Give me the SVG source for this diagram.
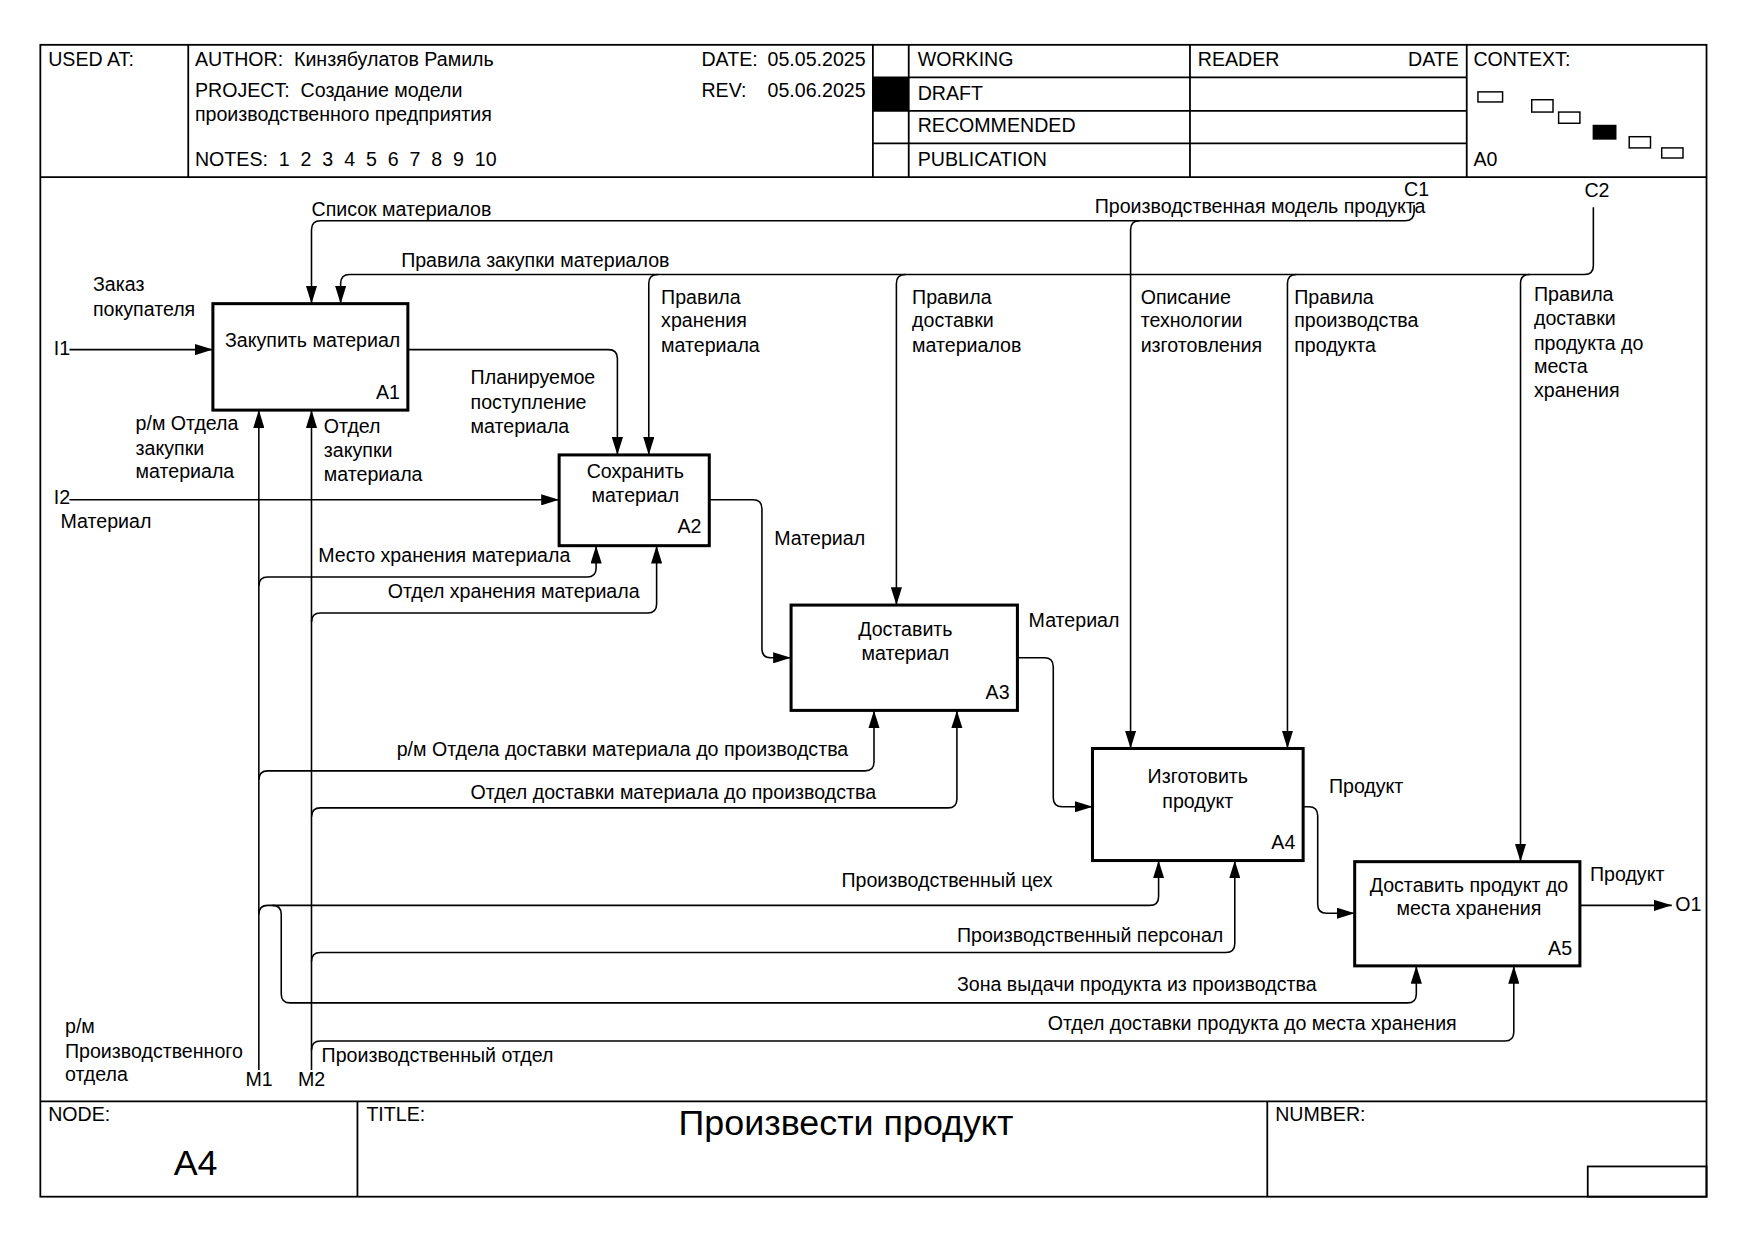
<svg xmlns="http://www.w3.org/2000/svg" width="1755" height="1241" viewBox="0 0 1755 1241">
<style>
text{font-family:"Liberation Sans",Arial,"Noto Sans",sans-serif;fill:#000}
.t{font-size:17.5px}
.h{font-size:17.5px;white-space:pre}
.big{font-size:32px}
.mid{text-anchor:middle}
.end{text-anchor:end}
.fr{fill:none;stroke:#000;stroke-width:1.6}
.box{fill:#fff;stroke:#000;stroke-width:2.7}
.arr{fill:none;stroke:#000;stroke-width:1.4;marker-end:url(#ah)}
.cx{fill:#fff;stroke:#000;stroke-width:1.3}
</style>
<defs>
<marker id="ah" viewBox="0 0 16 10" refX="16" refY="5" markerWidth="16" markerHeight="10" markerUnits="userSpaceOnUse" orient="auto">
<path d="M0,0 L16,5 L0,10 z" fill="#000"/>
</marker>
</defs>
<rect width="1755" height="1241" fill="#fff"/>
<g transform="scale(1.1205)">
<g id="frame">
<rect class="fr" x="36" y="40" width="1487" height="1028"/>
<line class="fr" x1="36" y1="158" x2="1523" y2="158"/>
<line class="fr" x1="36" y1="983" x2="1523" y2="983"/>
<line class="fr" x1="168" y1="40" x2="168" y2="158"/>
<line class="fr" x1="779" y1="40" x2="779" y2="158"/>
<line class="fr" x1="811" y1="40" x2="811" y2="158"/>
<line class="fr" x1="1062" y1="40" x2="1062" y2="158"/>
<line class="fr" x1="1309" y1="40" x2="1309" y2="158"/>
<line class="fr" x1="779" y1="69" x2="1309" y2="69"/>
<line class="fr" x1="779" y1="99" x2="1309" y2="99"/>
<line class="fr" x1="779" y1="128" x2="1309" y2="128"/>
<rect x="779" y="69" width="32" height="30" fill="#000"/>
<line class="fr" x1="319" y1="983" x2="319" y2="1068"/>
<line class="fr" x1="1131" y1="983" x2="1131" y2="1068"/>
<rect class="fr" x="1417" y="1041" width="106" height="27"/>
<rect class="cx" x="1319" y="82" width="22" height="9"/>
<rect class="cx" x="1367" y="89" width="19" height="11"/>
<rect class="cx" x="1391" y="100" width="19" height="10"/>
<rect x="1422" y="112" width="20" height="12" fill="#000" stroke="#000" stroke-width="1.3"/>
<rect class="cx" x="1454" y="122" width="19" height="10"/>
<rect class="cx" x="1483" y="132" width="19" height="9"/>
<text class="h" x="43" y="59">USED AT:</text>
<text class="h" x="174" y="59" xml:space="preserve">AUTHOR:  Кинзябулатов Рамиль</text>
<text class="h" x="626" y="59">DATE:</text>
<text class="h" x="685" y="59">05.05.2025</text>
<text class="h" x="174" y="87" xml:space="preserve">PROJECT:  Создание модели</text>
<text class="h" x="174" y="108">производственного предприятия</text>
<text class="h" x="626" y="87">REV:</text>
<text class="h" x="685" y="87">05.06.2025</text>
<text class="h" x="174" y="148" xml:space="preserve">NOTES:  1  2  3  4  5  6  7  8  9  10</text>
<text class="h" x="819" y="59">WORKING</text>
<text class="h" x="819" y="89">DRAFT</text>
<text class="h" x="819" y="118">RECOMMENDED</text>
<text class="h" x="819" y="148">PUBLICATION</text>
<text class="h" x="1069" y="59">READER</text>
<text class="h end" x="1302" y="59">DATE</text>
<text class="h" x="1315" y="59">CONTEXT:</text>
<text class="h" x="1315" y="148">A0</text>
<text class="h" x="43" y="1000">NODE:</text>
<text class="big" x="155" y="1049">A4</text>
<text class="h" x="327" y="1000">TITLE:</text>
<text class="big mid" x="755" y="1013">Произвести продукт</text>
<text class="h" x="1138" y="1000">NUMBER:</text>
</g>
<g id="connectors">
<path class="arr" d="M62,312 H190"/>
<path class="arr" d="M62,446 H499"/>
<path class="arr" d="M364,312 H543 Q551,312 551,320 V406"/>
<path class="arr" d="M1262,183 V189 Q1262,197 1254,197 H286 Q278,197 278,205 V271"/>
<path class="arr" d="M1017,197 Q1009,197 1009,205 V668"/>
<path class="arr" d="M1422,185 V237 Q1422,245 1414,245 H312 Q304,245 304,253 V271"/>
<path class="arr" d="M587,245 Q579,245 579,253 V406"/>
<path class="arr" d="M808,245 Q800,245 800,253 V540"/>
<path class="arr" d="M1157,245 Q1149,245 1149,253 V668"/>
<path class="arr" d="M1365,245 Q1357,245 1357,253 V769"/>
<path class="arr" d="M633,446 H672 Q680,446 680,454 V579 Q680,587 688,587 H706"/>
<path class="arr" d="M908,587 H932 Q940,587 940,595 V712 Q940,720 948,720 H975"/>
<path class="arr" d="M1163,720 H1168 Q1176,720 1176,728 V807 Q1176,815 1184,815 H1209"/>
<path class="arr" d="M1410,808 H1492"/>
<path class="arr" d="M231,955 V366"/>
<path class="arr" d="M231,523 Q231,515 239,515 H524 Q532,515 532,507 V487"/>
<path class="arr" d="M231,696 Q231,688 239,688 H772 Q780,688 780,680 V634"/>
<path class="arr" d="M231,816 Q231,808 239,808 H1026 Q1034,808 1034,800 V768"/>
<path class="arr" d="M243,808 Q251,808 251,816 V887 Q251,895 259,895 H1256 Q1264,895 1264,887 V862"/>
<path class="arr" d="M278,955 V366"/>
<path class="arr" d="M278,555 Q278,547 286,547 H578 Q586,547 586,539 V487"/>
<path class="arr" d="M278,729 Q278,721 286,721 H846 Q854,721 854,713 V634"/>
<path class="arr" d="M278,858 Q278,850 286,850 H1094 Q1102,850 1102,842 V768"/>
<path class="arr" d="M278,937 Q278,929 286,929 H1343 Q1351,929 1351,921 V862"/>
</g>
<g id="labels">
<text class="t" x="48" y="317">I1</text>
<text class="t" x="48" y="450">I2</text>
<text class="t" x="1495" y="813">O1</text>
<text class="t" x="1253" y="175">C1</text>
<text class="t" x="1414" y="176">C2</text>
<text class="t" x="219" y="969">M1</text>
<text class="t" x="266" y="969">M2</text>
<text class="t" x="83" y="260">Заказ</text>
<text class="t" x="83" y="282">покупателя</text>
<text class="t" x="54" y="471">Материал</text>
<text class="t" x="278" y="193">Список материалов</text>
<text class="t" x="358" y="238">Правила закупки материалов</text>
<text class="t" x="977" y="190">Производственная модель продукта</text>
<text class="t" x="590" y="271">Правила</text>
<text class="t" x="590" y="292">хранения</text>
<text class="t" x="590" y="314">материала</text>
<text class="t" x="814" y="271">Правила</text>
<text class="t" x="814" y="292">доставки</text>
<text class="t" x="814" y="314">материалов</text>
<text class="t" x="1018" y="271">Описание</text>
<text class="t" x="1018" y="292">технологии</text>
<text class="t" x="1018" y="314">изготовления</text>
<text class="t" x="1155" y="271">Правила</text>
<text class="t" x="1155" y="292">производства</text>
<text class="t" x="1155" y="314">продукта</text>
<text class="t" x="1369" y="269">Правила</text>
<text class="t" x="1369" y="290">доставки</text>
<text class="t" x="1369" y="312">продукта до</text>
<text class="t" x="1369" y="333">места</text>
<text class="t" x="1369" y="354">хранения</text>
<text class="t" x="420" y="343">Планируемое</text>
<text class="t" x="420" y="365">поступление</text>
<text class="t" x="420" y="386">материала</text>
<text class="t" x="121" y="384">р/м Отдела</text>
<text class="t" x="121" y="406">закупки</text>
<text class="t" x="121" y="427">материала</text>
<text class="t" x="289" y="386">Отдел</text>
<text class="t" x="289" y="408">закупки</text>
<text class="t" x="289" y="429">материала</text>
<text class="t" x="284" y="502">Место хранения материала</text>
<text class="t" x="346" y="534">Отдел хранения материала</text>
<text class="t" x="691" y="486">Материал</text>
<text class="t" x="918" y="560">Материал</text>
<text class="t" x="354" y="675">р/м Отдела доставки материала до производства</text>
<text class="t" x="420" y="713">Отдел доставки материала до производства</text>
<text class="t" x="1186" y="708">Продукт</text>
<text class="t" x="1419" y="786">Продукт</text>
<text class="t" x="751" y="792">Производственный цех</text>
<text class="t" x="854" y="841">Производственный персонал</text>
<text class="t" x="854" y="884">Зона выдачи продукта из производства</text>
<text class="t" x="935" y="919">Отдел доставки продукта до места хранения</text>
<text class="t" x="58" y="922">р/м</text>
<text class="t" x="58" y="944">Производственного</text>
<text class="t" x="58" y="965">отдела</text>
<text class="t" x="287" y="948">Производственный отдел</text>
</g>
<g id="A1">
<rect class="box" x="190" y="271" width="174" height="95"/>
<text class="t mid" x="279" y="310">Закупить материал</text>
<text class="t end" x="357" y="356">A1</text>
</g>
<g id="A2">
<rect class="box" x="499" y="406" width="134" height="81"/>
<text class="t mid" x="567" y="427">Сохранить</text>
<text class="t mid" x="567" y="448">материал</text>
<text class="t end" x="626" y="476">A2</text>
</g>
<g id="A3">
<rect class="box" x="706" y="540" width="202" height="94"/>
<text class="t mid" x="808" y="568">Доставить</text>
<text class="t mid" x="808" y="589">материал</text>
<text class="t end" x="901" y="624">A3</text>
</g>
<g id="A4">
<rect class="box" x="975" y="668" width="188" height="100"/>
<text class="t mid" x="1069" y="699">Изготовить</text>
<text class="t mid" x="1069" y="721">продукт</text>
<text class="t end" x="1156" y="758">A4</text>
</g>
<g id="A5">
<rect class="box" x="1209" y="769" width="201" height="93"/>
<text class="t mid" x="1311" y="796">Доставить продукт до</text>
<text class="t mid" x="1311" y="817">места хранения</text>
<text class="t end" x="1403" y="852">A5</text>
</g>
</g>
</svg>
